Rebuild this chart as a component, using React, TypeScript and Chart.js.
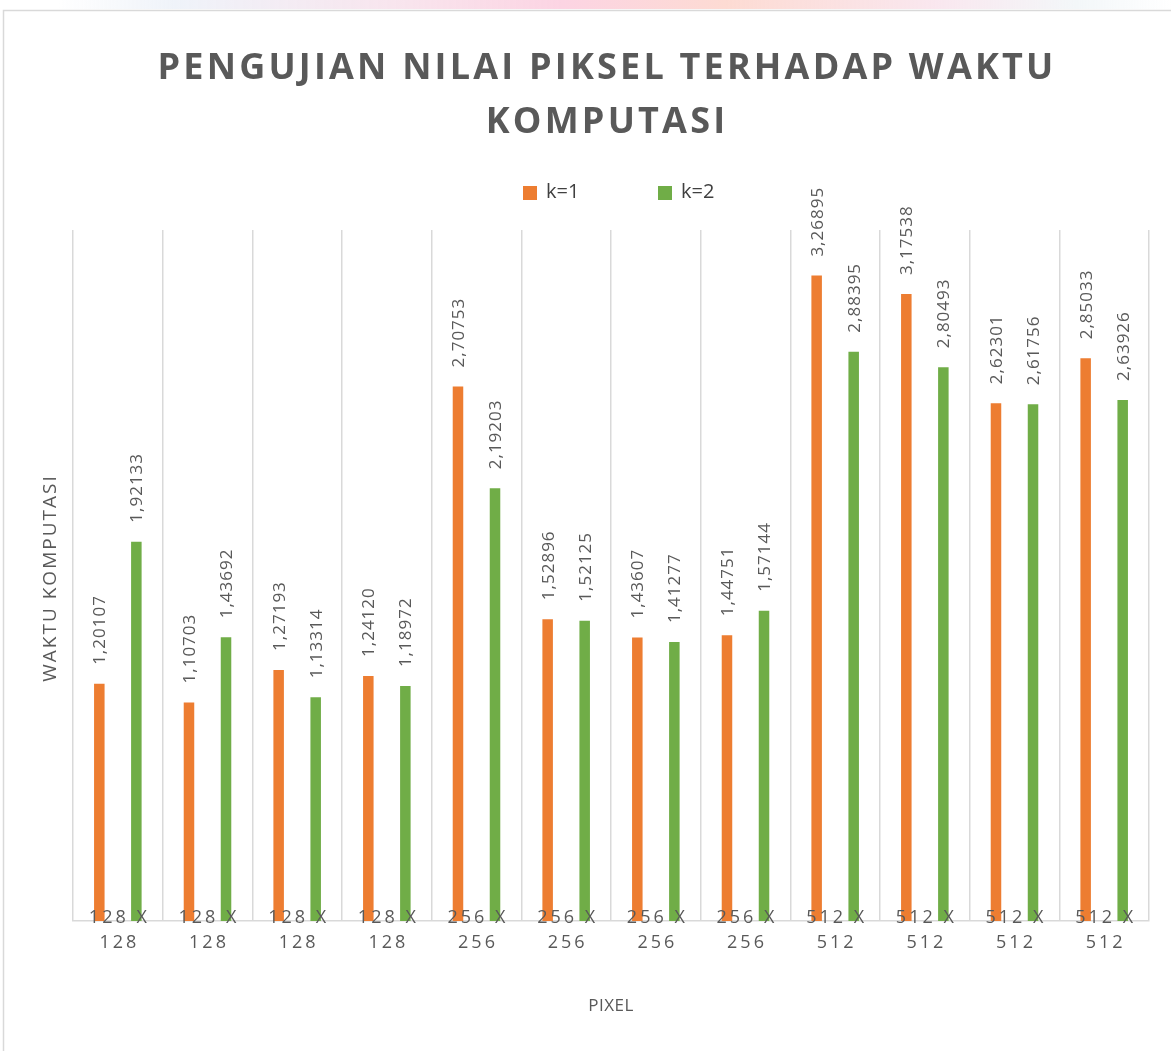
import { useEffect, useRef } from 'react';
import { Chart, registerables } from 'chart.js';

Chart.register(...registerables);

const categories = [
  '128 X 128', '128 X 128', '128 X 128', '128 X 128',
  '256 X 256', '256 X 256', '256 X 256', '256 X 256',
  '512 X 512', '512 X 512', '512 X 512', '512 X 512',
];
const seriesNames = ['k=1', 'k=2'];
const k1Values = [1.20107, 1.10703, 1.27193, 1.2412, 2.70753, 1.52896, 1.43607, 1.44751, 3.26895, 3.17538, 2.62301, 2.85033];
const k2Values = [1.92133, 1.43692, 1.13314, 1.18972, 2.19203, 1.52125, 1.41277, 1.57144, 2.88395, 2.80493, 2.61756, 2.63926];
const seriesColors = ['#ED7D31', '#70AD47'];
const chartTitle = ['PENGUJIAN NILAI PIKSEL TERHADAP WAKTU', 'KOMPUTASI'];
const xAxisTitle = 'PIXEL';
const yAxisTitle = 'WAKTU KOMPUTASI';
const yMin = 0;
const yMax = 3.5;

const TEXT_GRAY = '#595959';

function tickLines(label: string): string[] {
  const parts = label.split(' X ');
  return [parts[0] + ' X', parts[1]];
}

const decorPlugin = {
  id: 'decor',
  beforeDraw(chart: any) {
    const ctx = chart.ctx as CanvasRenderingContext2D;
    (ctx as any).letterSpacing = '0px';
    ctx.save();
    ctx.fillStyle = '#ffffff';
    ctx.fillRect(0, 0, chart.width, chart.height);
    ctx.strokeStyle = '#d9d9d9';
    ctx.lineWidth = 1.5;
    ctx.beginPath();
    ctx.moveTo(3.5, chart.height);
    ctx.lineTo(3.5, 10.5);
    ctx.lineTo(chart.width, 10.5);
    ctx.stroke();
    ctx.restore();
  },
  afterDatasetsDraw(chart: any) {
    const ctx = chart.ctx as CanvasRenderingContext2D;
    ctx.save();
    (ctx as any).letterSpacing = '1px';
    ctx.font = '17px "Open Sans"';
    ctx.fillStyle = TEXT_GRAY;
    chart.data.datasets.forEach((ds: any, di: number) => {
      const meta = chart.getDatasetMeta(di);
      meta.data.forEach((bar: any, i: number) => {
        const v = ds.data[i] as number;
        const text = v.toFixed(5).replace('.', ',');
        ctx.save();
        ctx.translate(bar.x + 6, bar.y - 19);
        ctx.rotate(-Math.PI / 2);
        ctx.textAlign = 'left';
        ctx.textBaseline = 'alphabetic';
        ctx.fillText(text, 0, 0);
        ctx.restore();
      });
    });

    // x category labels (drawn over the bars, positioned by the x scale)
    const xs = chart.scales.x;
    (ctx as any).letterSpacing = '3px';
    ctx.font = '18px "Open Sans"';
    ctx.textAlign = 'center';
    ctx.textBaseline = 'alphabetic';
    ctx.fillStyle = TEXT_GRAY;
    const base = xs.top;
    chart.data.labels.forEach((lab: string, i: number) => {
      const x = xs.getPixelForTick(i);
      const lines = tickLines(lab);
      ctx.fillText(lines[0], x + 1.5, base + 2);
      ctx.fillText(lines[1], x + 1.5, base + 27);
    });
    ctx.restore();
  },
  afterDraw(chart: any) {
    const ctx = chart.ctx as CanvasRenderingContext2D;
    ctx.save();
    // Title
    (ctx as any).letterSpacing = '3.2px';
    ctx.font = 'bold 36px "Open Sans"';
    ctx.fillStyle = TEXT_GRAY;
    ctx.textAlign = 'center';
    ctx.textBaseline = 'alphabetic';
    ctx.fillText(chartTitle[0], 607, 79);
    ctx.fillText(chartTitle[1], 607, 133);

    // Legend
    (ctx as any).letterSpacing = '0px';
    ctx.font = '20px "Open Sans"';
    ctx.textAlign = 'left';
    const legendX = [523, 658];
    chart.data.datasets.forEach((ds: any, di: number) => {
      ctx.fillStyle = ds.backgroundColor;
      ctx.fillRect(legendX[di], 186, 14, 14);
      ctx.fillStyle = '#404040';
      ctx.fillText(ds.label, legendX[di] + 23, 198);
    });

    // Axis titles
    ctx.fillStyle = TEXT_GRAY;
    ctx.textAlign = 'center';
    (ctx as any).letterSpacing = '2px';
    ctx.font = '19px "Open Sans"';
    ctx.save();
    ctx.translate(56, 578);
    ctx.rotate(-Math.PI / 2);
    ctx.fillText(yAxisTitle, 0, 0);
    ctx.restore();

    (ctx as any).letterSpacing = '0.5px';
    ctx.font = '17px "Open Sans"';
    ctx.fillText(xAxisTitle, 611, 1011);
    ctx.restore();
    (ctx as any).letterSpacing = '0px';
  },
};

export default function App() {
  const canvasRef = useRef<HTMLCanvasElement | null>(null);

  useEffect(() => {
    if (!canvasRef.current) return;
    const chart = new Chart(canvasRef.current, {
      type: 'bar',
      data: {
        labels: categories,
        datasets: [
          {
            label: seriesNames[0],
            data: k1Values,
            backgroundColor: seriesColors[0],
            barPercentage: 0.284,
            categoryPercentage: 0.826,
          },
          {
            label: seriesNames[1],
            data: k2Values,
            backgroundColor: seriesColors[1],
            barPercentage: 0.284,
            categoryPercentage: 0.826,
          },
        ],
      },
      options: {
        responsive: false,
        animation: false,
        layout: { padding: { top: 230, left: 73, right: 22, bottom: 0 } },
        plugins: {
          legend: { display: false },
          title: { display: false },
          tooltip: { enabled: false },
        },
        scales: {
          x: {
            offset: true,
            grid: { display: true, offset: true, color: '#d9d9d9', lineWidth: 1.5, drawTicks: false },
            border: { display: true, color: '#d9d9d9', width: 1.5 },
            ticks: { display: false, autoSkip: false },
            afterFit: (s: any) => {
              s.height = 130;
            },
          },
          y: { display: false, min: yMin, max: yMax },
        },
      },
      plugins: [decorPlugin],
    } as any);
    return () => chart.destroy();
  }, []);

  return (
    <div style={{ position: 'fixed', left: 0, top: 0, width: 1171, height: 1051, background: '#fff' }}>
      <div
        style={{
          position: 'absolute', left: 0, top: 0, width: 1171, height: 9, zIndex: 1,
          background:
            'linear-gradient(to right, rgba(255,255,255,0) 5%, rgba(235,240,248,0.8) 15%, rgba(248,225,235,0.9) 35%, #fcd4e3 48%, #fddbd3 62%, rgba(248,225,235,0.8) 80%, rgba(235,242,245,0.6) 92%, rgba(255,255,255,0) 100%)',
        }}
      />
      <canvas ref={canvasRef} width={1171} height={1051} style={{ display: 'block' }} />
    </div>
  );
}
